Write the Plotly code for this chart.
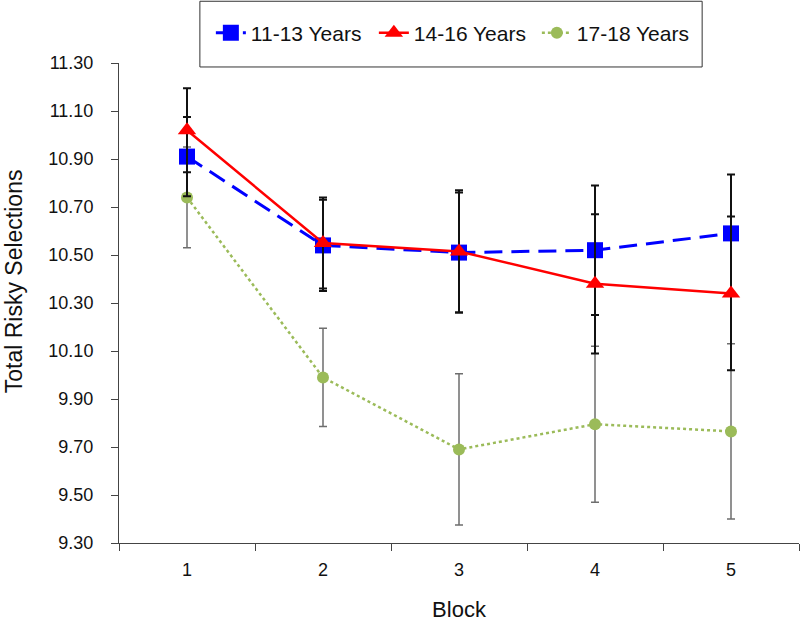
import plotly.graph_objects as go

blocks = ['1', '2', '3', '4', '5']

age_11_13 = [10.91, 10.54, 10.51, 10.52, 10.59]
age_11_13_err = [0.165, 0.19, 0.25, 0.27, 0.245]

age_14_16 = [11.02, 10.55, 10.515, 10.38, 10.34]
age_14_16_err = [0.175, 0.19, 0.255, 0.29, 0.32]

age_17_18 = [10.74, 9.99, 9.69, 9.795, 9.765]
age_17_18_err = [0.21, 0.205, 0.315, 0.325, 0.365]

FONT = 'Liberation Sans, Arial, sans-serif'

# plot area in pixels: left 119, right 799, top 63, bottom 545
PLOT_H = 482


def px_to_paper_y(py):
    return (545 - py) / PLOT_H


def px_to_paper_x(px):
    return (px - 119) / 681


fig = go.Figure()

# green drawn first so its gray bars sit underneath the others
fig.add_trace(go.Scatter(
    x=blocks, y=age_17_18, name='17-18 Years', mode='lines+markers',
    line={'color': '#9BBB59', 'width': 2.5, 'dash': 'dot'},
    marker={'symbol': 'circle', 'size': 12, 'color': '#9BBB59'},
    error_y={'type': 'data', 'array': age_17_18_err, 'color': '#6E6E6E',
             'thickness': 1.5, 'width': 4},
    legendrank=3,
))
fig.add_trace(go.Scatter(
    x=blocks, y=age_11_13, name='11-13 Years', mode='lines+markers',
    line={'color': '#0000FF', 'width': 3, 'dash': '18px,9px'},
    marker={'symbol': 'square', 'size': 16, 'color': '#0000FF'},
    error_y={'type': 'data', 'array': age_11_13_err, 'color': '#111111',
             'thickness': 2, 'width': 4},
    legendrank=1,
))
fig.add_trace(go.Scatter(
    x=blocks, y=age_14_16, name='14-16 Years', mode='lines+markers',
    line={'color': '#FF0000', 'width': 2.5},
    marker={'symbol': 'triangle-up', 'size': 16, 'color': '#FF0000'},
    error_y={'type': 'data', 'array': age_14_16_err, 'color': '#111111',
             'thickness': 2, 'width': 4},
    legendrank=2,
))

fig.update_layout(
    width=800, height=622,
    margin={'l': 119, 'r': 1, 't': 63, 'b': 77},
    paper_bgcolor='white', plot_bgcolor='white',
    font={'family': FONT, 'size': 18, 'color': '#111111'},
    showlegend=True,
    legend={
        'orientation': 'h', 'x': px_to_paper_x(211), 'xanchor': 'left',
        'y': px_to_paper_y(33), 'yanchor': 'middle',
        'font': {'size': 21}, 'bgcolor': 'rgba(0,0,0,0)',
        'traceorder': 'normal', 'itemwidth': 30, 'entrywidth': 118,
    },
    shapes=[{
        'type': 'rect', 'xref': 'paper', 'yref': 'paper',
        'x0': px_to_paper_x(200), 'x1': px_to_paper_x(703),
        'y0': px_to_paper_y(67), 'y1': px_to_paper_y(1),
        'line': {'color': '#333333', 'width': 1}, 'fillcolor': 'white',
        'layer': 'below',
    }],
    annotations=[{
        'text': 'Total Risky Selections', 'textangle': -90,
        'xref': 'paper', 'yref': 'paper',
        'x': px_to_paper_x(14), 'y': px_to_paper_y(282),
        'xanchor': 'center', 'yanchor': 'middle', 'showarrow': False,
        'font': {'size': 23},
    }],
    xaxis={
        'type': 'category', 'range': [-0.5, 4.5],
        'tickson': 'boundaries', 'ticks': 'outside', 'ticklen': 7,
        'tickcolor': '#444444', 'showline': True, 'linecolor': '#444444',
        'linewidth': 1, 'showgrid': False, 'zeroline': False,
        'ticklabelstandoff': 10,
        'title': {'text': 'Block', 'font': {'size': 22}, 'standoff': 26},
    },
    yaxis={
        'range': [9.3, 11.3], 'dtick': 0.2, 'tick0': 9.3, 'tickformat': '.2f',
        'ticks': 'outside', 'ticklen': 7, 'tickcolor': '#444444',
        'showline': True, 'linecolor': '#444444', 'linewidth': 1,
        'showgrid': False, 'zeroline': False, 'ticklabelstandoff': 14,
    },
)

# drop the page's default body margin so the figure sits at the window origin
fig.write_html('out.html', config={'displayModeBar': False},
               post_script="document.body.style.margin = '0';")
